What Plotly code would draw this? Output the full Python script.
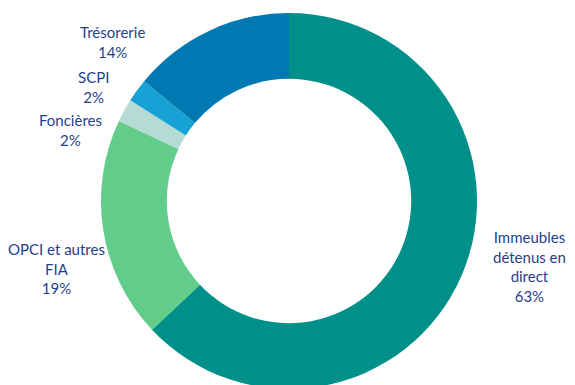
import plotly.graph_objects as go

labels = ["Immeubles détenus en direct", "OPCI et autres FIA", "Foncières", "SCPI", "Trésorerie"]
label_lines = ["Immeubles<br>détenus en<br>direct", "OPCI et autres<br>FIA", "Foncières", "SCPI", "Trésorerie"]
values = [63, 19, 2, 2, 14]
colors = ["#00908A", "#62CD8B", "#B4DCD4", "#17A2D5", "#0079B3"]

# page offset from default body margin
OFF = 8
# label anchor positions (page pixel centres of text blocks)
label_pos = [(529, 266), (56.5, 268.5), (70, 130.5), (93.5, 87), (112.5, 42.5)]

W, H = 575, 385
cx, cy, r = 289 - OFF, 201 - OFF, 188
fig = go.Figure(go.Pie(
    labels=labels, values=values, sort=False, direction="clockwise", rotation=0,
    hole=0.65, marker=dict(colors=colors, line=dict(width=0)),
    textinfo="none", hoverinfo="label+percent", showlegend=False,
    domain=dict(x=[(cx - r) / W, (cx + r) / W], y=[1 - (cy + r) / H, 1 - (cy - r) / H]),
))

total = sum(values)
for txt, v, (px, py) in zip(label_lines, values, label_pos):
    fig.add_annotation(
        x=(px - OFF) / W, y=1 - (py - OFF) / H, xref="paper", yref="paper",
        text=f"{txt}<br>{round(100 * v / total)}%", showarrow=False,
        xanchor="center", yanchor="middle", align="center",
        font=dict(family="Lato, Open Sans, sans-serif", size=15, color="#1F3F8C"),
    )

fig.update_layout(width=W, height=H, margin=dict(l=0, r=0, t=0, b=0),
                  paper_bgcolor="white", plot_bgcolor="white")
fig.write_html("out.html")
